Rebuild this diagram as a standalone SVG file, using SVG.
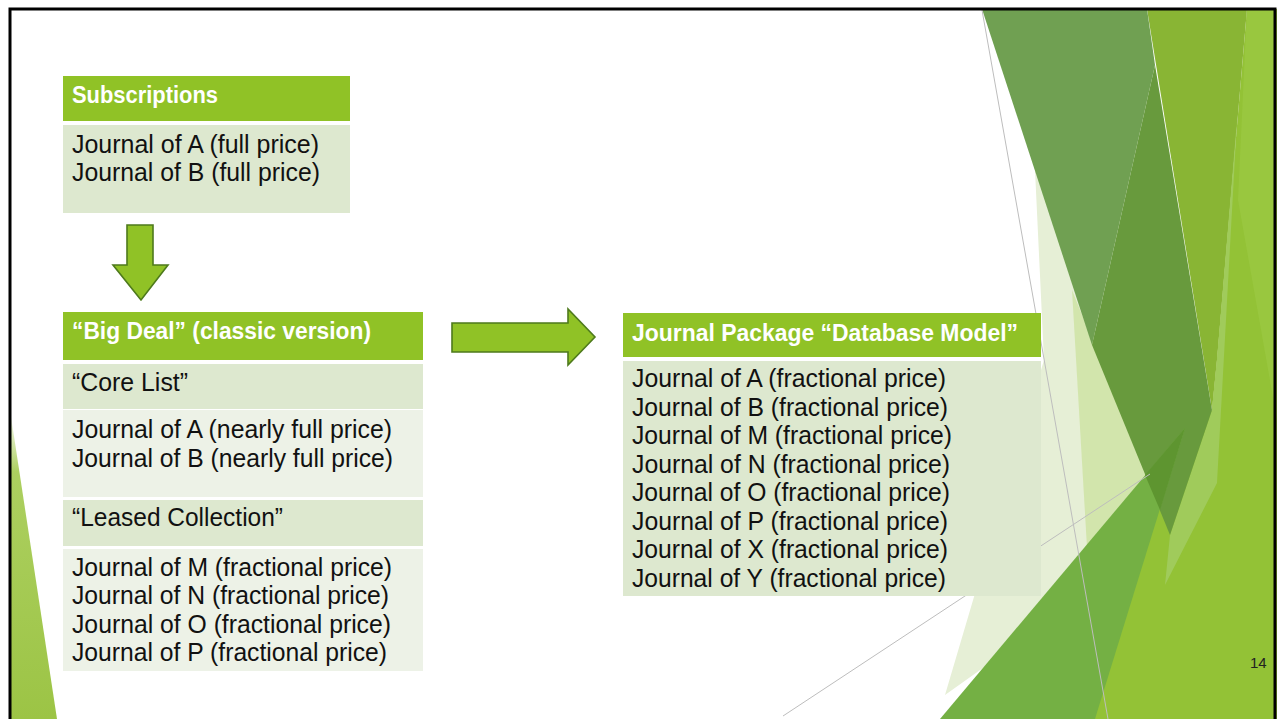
<svg xmlns="http://www.w3.org/2000/svg" width="1277" height="719" viewBox="0 0 1277 719">
<defs>
<style>
.hd{fill:#90C226}
.dk{fill:#DDE8CF}
.lt{fill:#EDF2E7}
.ht{font-family:"Liberation Sans",Arial,sans-serif;font-size:23px;font-weight:bold;fill:#FFFFFF}
.bt{font-family:"Liberation Sans",Arial,sans-serif;font-size:25px;fill:#111111}
.arrow{fill:#90C226;stroke:#4E7A1C;stroke-width:1.6;stroke-linejoin:miter}
.thin{stroke:#BDBDBD;stroke-width:1;fill:none}
</style>
<linearGradient id="blg" x1="0" y1="0" x2="0" y2="1">
<stop offset="0" stop-color="#A3CA4E" stop-opacity="0"/>
<stop offset="0.2" stop-color="#A3CA4E" stop-opacity="0.9"/>
<stop offset="1" stop-color="#9CC445"/>
</linearGradient>
</defs>
<rect width="1277" height="719" fill="#FFFFFF"/>
<g id="decor">
<polygon points="10,410 10,719 57,719" fill="url(#blg)"/>
<polygon points="1035,170 1170,535 945,695 1044,360" fill="#E6EFD6"/>
<polygon points="1072,290 1170,535 1088,565" fill="#D2E5AC"/>
<polygon points="1247,9 1277,9 1277,719 1060,719 1150,480 1212,410 1217,360" fill="#93C236"/>
<polygon points="1247,9 1277,9 1277,420 1238,200" fill="#99C73F"/>
<polygon points="1147,9 1247,9 1217,360 1212,410" fill="#89B534"/>
<polygon points="1237,120 1217,483 1165,585 1170,535 1212,410 1217,360" fill="#A0CB5B"/>
<polygon points="982,9 1147,9 1155,65 1092,345" fill="#70A052"/>
<polygon points="1155,65 1212,410 1170,535 1092,345" fill="#689A3D"/>
<polygon points="940,719 1185,428 1095,719" fill="#74B044"/>
<polygon points="1145,475 1185,428 1160,510" fill="#5E9530"/>
<line class="thin" x1="982" y1="10" x2="1108" y2="719"/>
<line class="thin" x1="783" y1="716" x2="1150" y2="474"/>
</g>
<g id="subscriptions">
<rect class="hd" x="63" y="76" width="287" height="45"/>
<rect class="dk" x="63" y="125" width="287" height="88"/>
<text class="ht" x="72" y="103" textLength="146" lengthAdjust="spacingAndGlyphs">Subscriptions</text>
<text class="bt" x="72" y="153" textLength="247" lengthAdjust="spacingAndGlyphs">Journal of A (full price)</text>
<text class="bt" x="72" y="181" textLength="248" lengthAdjust="spacingAndGlyphs">Journal of B (full price)</text>
</g>
<g id="big-deal">
<rect class="hd" x="63" y="312" width="360" height="48"/>
<rect class="dk" x="63" y="364" width="360" height="45"/>
<rect class="lt" x="63" y="410" width="360" height="87"/>
<rect class="dk" x="63" y="500" width="360" height="46"/>
<rect class="lt" x="63" y="549" width="360" height="122"/>
<text class="ht" x="72" y="339" textLength="299" lengthAdjust="spacingAndGlyphs">“Big Deal” (classic version)</text>
<text class="bt" x="72" y="391" textLength="116" lengthAdjust="spacingAndGlyphs">“Core List”</text>
<text class="bt" x="72" y="438" textLength="320" lengthAdjust="spacingAndGlyphs">Journal of A (nearly full price)</text>
<text class="bt" x="72" y="467" textLength="321" lengthAdjust="spacingAndGlyphs">Journal of B (nearly full price)</text>
<text class="bt" x="72" y="526" textLength="211" lengthAdjust="spacingAndGlyphs">“Leased Collection”</text>
<text class="bt" x="72" y="576" textLength="320" lengthAdjust="spacingAndGlyphs">Journal of M (fractional price)</text>
<text class="bt" x="72" y="604" textLength="317" lengthAdjust="spacingAndGlyphs">Journal of N (fractional price)</text>
<text class="bt" x="72" y="633" textLength="319" lengthAdjust="spacingAndGlyphs">Journal of O (fractional price)</text>
<text class="bt" x="72" y="661" textLength="315" lengthAdjust="spacingAndGlyphs">Journal of P (fractional price)</text>
</g>
<g id="database-model">
<rect class="hd" x="623" y="313" width="418" height="44"/>
<rect class="dk" x="623" y="361" width="418" height="235"/>
<text class="ht" x="632" y="341" textLength="386" lengthAdjust="spacingAndGlyphs">Journal Package “Database Model”</text>
<text class="bt" x="632" y="387" textLength="314" lengthAdjust="spacingAndGlyphs">Journal of A (fractional price)</text>
<text class="bt" x="632" y="416" textLength="316" lengthAdjust="spacingAndGlyphs">Journal of B (fractional price)</text>
<text class="bt" x="632" y="444" textLength="320" lengthAdjust="spacingAndGlyphs">Journal of M (fractional price)</text>
<text class="bt" x="632" y="473" textLength="318" lengthAdjust="spacingAndGlyphs">Journal of N (fractional price)</text>
<text class="bt" x="632" y="501" textLength="318" lengthAdjust="spacingAndGlyphs">Journal of O (fractional price)</text>
<text class="bt" x="632" y="530" textLength="316" lengthAdjust="spacingAndGlyphs">Journal of P (fractional price)</text>
<text class="bt" x="632" y="558" textLength="316" lengthAdjust="spacingAndGlyphs">Journal of X (fractional price)</text>
<text class="bt" x="632" y="587" textLength="314" lengthAdjust="spacingAndGlyphs">Journal of Y (fractional price)</text>
</g>
<g id="connectors">
<polygon class="arrow" points="127,225 153,225 153,265 168,265 141,300 113,265 127,265"/>
<polygon class="arrow" points="452,323 568,323 568,309 595,337 568,365 568,352 452,352"/>
</g>
<text x="1250" y="668" font-family="'Liberation Sans',Arial,sans-serif" font-size="15" fill="#222222">14</text>
<rect x="10" y="9" width="1265" height="720" fill="none" stroke="#000000" stroke-width="3"/>
</svg>
